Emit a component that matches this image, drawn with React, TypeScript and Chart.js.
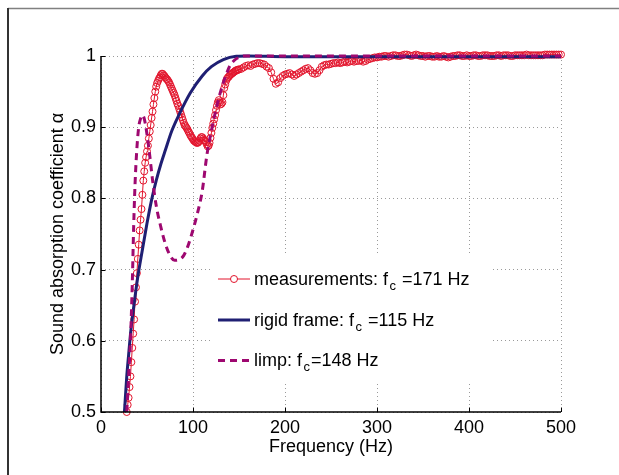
import React, { useEffect, useRef } from "react";
import { Chart, registerables } from "chart.js";

Chart.register(...registerables);

// ---------------- data ----------------
const xTickValues = [0, 100, 200, 300, 400, 500];
const yTickValues = [0.5, 0.6, 0.7, 0.8, 0.9, 1];

// rigid frame model (Hz / alpha)
const rigidFreq = [25.5, 28, 30, 32.5, 35, 40, 45, 50, 55, 60, 65, 70, 77, 85, 97, 110, 120, 133, 147, 160, 200, 300, 400, 500];
const rigidAlpha = [0.5, 0.55, 0.58, 0.615, 0.642, 0.69, 0.728, 0.765, 0.798, 0.825, 0.848, 0.868, 0.895, 0.918, 0.948, 0.972, 0.985, 0.995, 0.9995, 1.0, 0.999, 0.999, 0.999, 0.999];

// limp model (Hz / alpha)
const limpFreq = [28, 30, 32, 34, 35.5, 37, 39, 41, 43, 45, 47, 50, 53, 56, 60, 65, 70, 75, 80, 85, 90, 95, 100, 105, 110, 115, 120, 125, 130, 135, 140, 145, 150, 155, 165, 200, 300, 400, 500];
const limpAlpha = [0.5, 0.55, 0.6, 0.68, 0.76, 0.82, 0.87, 0.9, 0.912, 0.917, 0.912, 0.89, 0.86, 0.826, 0.79, 0.76, 0.736, 0.72, 0.713, 0.714, 0.72, 0.735, 0.756, 0.78, 0.81, 0.86, 0.895, 0.925, 0.95, 0.97, 0.986, 0.994, 0.998, 1.0, 1.0, 1.0, 1.0, 1.0, 1.0];

// measurements, low band: 28 Hz .. 149 Hz, 1 Hz resolution
const measLowStartHz = 28;
const measLowStepHz = 1;
const measLowAlpha = [
  0.500, 0.510, 0.520, 0.535, 0.550, 0.570, 0.590, 0.610, 0.630, 0.655,
  0.675, 0.695, 0.715, 0.735, 0.755, 0.770, 0.785, 0.805, 0.825, 0.838,
  0.850, 0.858, 0.866, 0.874, 0.884, 0.894, 0.903, 0.913, 0.922, 0.932,
  0.941, 0.950, 0.957, 0.962, 0.965, 0.968, 0.970, 0.973, 0.975, 0.975,
  0.973, 0.972, 0.970, 0.968, 0.967, 0.965, 0.963, 0.960, 0.957, 0.954,
  0.951, 0.948, 0.945, 0.941, 0.937, 0.933, 0.930, 0.926, 0.922, 0.918,
  0.914, 0.910, 0.906, 0.903, 0.901, 0.899, 0.897, 0.894, 0.892, 0.889,
  0.887, 0.885, 0.883, 0.881, 0.880, 0.879, 0.878, 0.878, 0.879, 0.881,
  0.884, 0.886, 0.886, 0.884, 0.882, 0.881, 0.879, 0.876, 0.873, 0.874,
  0.878, 0.885, 0.892, 0.899, 0.905, 0.911, 0.917, 0.924, 0.930, 0.935,
  0.938, 0.935, 0.932, 0.933, 0.935, 0.945, 0.955, 0.960, 0.965, 0.968,
  0.970, 0.971, 0.973, 0.974, 0.975, 0.976, 0.977, 0.978, 0.979, 0.980,
  0.980, 0.981,
];

// measurements, high band: 150 Hz .. 500 Hz, 2.5 Hz resolution
const measHighStartHz = 150;
const measHighStepHz = 2.5;
const measHighAlpha = [
  0.981, 0.982, 0.984, 0.986, 0.987, 0.986, 0.988, 0.989, 0.990, 0.990,
  0.989, 0.988, 0.985, 0.983, 0.977, 0.968, 0.961, 0.963, 0.969, 0.972,
  0.974, 0.975, 0.976, 0.974, 0.972, 0.974, 0.976, 0.978, 0.980, 0.982,
  0.983, 0.980, 0.976, 0.975, 0.976, 0.980, 0.985, 0.987, 0.988, 0.988,
  0.989, 0.990, 0.990, 0.991, 0.990, 0.991, 0.992, 0.991, 0.992, 0.993,
  0.992, 0.993, 0.993, 0.994, 0.992, 0.993, 0.995, 0.996, 0.997, 0.998,
  0.998, 0.999, 0.999, 1.000, 1.000, 0.999, 1.000, 1.001, 1.001, 1.000,
  1.000, 1.001, 1.002, 1.002, 1.001, 1.000, 1.001, 1.002, 1.001, 1.000,
  1.000, 0.999, 1.000, 1.000, 0.999, 0.999, 1.000, 0.999, 0.999, 1.000,
  0.999, 0.998, 0.999, 1.000, 1.000, 1.001, 1.001, 1.000, 1.000, 1.001,
  1.000, 1.000, 1.001, 1.001, 1.000, 1.000, 1.001, 1.001, 1.001, 1.000,
  1.000, 1.000, 1.001, 1.001, 1.000, 1.001, 1.001, 1.001, 1.000, 1.000,
  1.001, 1.001, 1.001, 1.001, 1.001, 1.002, 1.001, 1.001, 1.001, 1.001,
  1.001, 1.001, 1.001, 1.002, 1.002, 1.002, 1.002, 1.002, 1.002, 1.002,
  1.002,
];

const legendEntries = [
  { main: "measurements: f", sub: "c", rest: " =171 Hz" },
  { main: "rigid frame: f", sub: "c", rest: " =115 Hz" },
  { main: "limp: f", sub: "c", rest: "=148 Hz" },
];

const RED = "#e2142c";
const NAVY = "#1f1f73";
const PURPLE = "#9e0870";
const FONT = '"Liberation Sans", Arial, Helvetica, sans-serif';

function toPoints(xs: number[], ys: number[]) {
  return ys.map((y, i) => ({ x: xs[i], y }));
}
function gridPoints(start: number, step: number, ys: number[]) {
  return ys.map((y, i) => ({ x: start + i * step, y }));
}

const decorPlugin = {
  id: "decor",
  afterDraw(chart: any) {
    const ctx = chart.ctx as CanvasRenderingContext2D;
    const area = chart.chartArea;
    const xs = chart.scales.x;
    const ys = chart.scales.y;
    ctx.save();

    // outer figure frame
    ctx.strokeStyle = "#808080";
    ctx.lineWidth = 1.5;
    ctx.beginPath();
    ctx.moveTo(8, 8.5);
    ctx.lineTo(619, 8.5);
    ctx.stroke();
    ctx.strokeStyle = "#333333";
    ctx.lineWidth = 2;
    ctx.beginPath();
    ctx.moveTo(8, 8);
    ctx.lineTo(8, 475);
    ctx.stroke();

    // axes lines
    ctx.strokeStyle = "#000";
    ctx.lineWidth = 1.5;
    ctx.beginPath();
    ctx.moveTo(area.left, area.top);
    ctx.lineTo(area.left, area.bottom);
    ctx.lineTo(area.right, area.bottom);
    ctx.stroke();

    // inward tick marks
    ctx.lineWidth = 1;
    ctx.beginPath();
    xTickValues.forEach((v) => {
      const px = Math.round(xs.getPixelForValue(v)) + 0.5;
      ctx.moveTo(px, area.bottom);
      ctx.lineTo(px, area.bottom - 4.5);
    });
    yTickValues.forEach((v) => {
      const py = Math.round(ys.getPixelForValue(v)) + 0.5;
      ctx.moveTo(area.left, py);
      ctx.lineTo(area.left + 4.5, py);
    });
    ctx.stroke();

    // axis titles
    ctx.fillStyle = "#000";
    ctx.font = `18px ${FONT}`;
    ctx.textAlign = "center";
    ctx.textBaseline = "alphabetic";
    ctx.fillText("Frequency (Hz)", (area.left + area.right) / 2, 452);
    ctx.save();
    ctx.translate(63, (area.top + area.bottom) / 2);
    ctx.rotate(-Math.PI / 2);
    ctx.fillText("Sound absorption coefficient \u03b1", 0, 0);
    ctx.restore();

    // legend
    ctx.fillStyle = "#fff";
    ctx.fillRect(213, 256, 280, 128);
    const rowsY = [279, 320, 360.5];
    rowsY.forEach((y, i) => {
      ctx.save();
      if (i === 0) {
        ctx.strokeStyle = RED;
        ctx.lineWidth = 1;
        ctx.beginPath();
        ctx.moveTo(218, y);
        ctx.lineTo(250, y);
        ctx.stroke();
        ctx.beginPath();
        ctx.arc(234, y, 3.5, 0, Math.PI * 2);
        ctx.fillStyle = "#fff";
        ctx.fill();
        ctx.stroke();
      } else if (i === 1) {
        ctx.strokeStyle = NAVY;
        ctx.lineWidth = 3;
        ctx.beginPath();
        ctx.moveTo(218, y);
        ctx.lineTo(250, y);
        ctx.stroke();
      } else {
        ctx.strokeStyle = PURPLE;
        ctx.lineWidth = 3;
        ctx.setLineDash([7, 5]);
        ctx.beginPath();
        ctx.moveTo(218, y);
        ctx.lineTo(251, y);
        ctx.stroke();
      }
      ctx.restore();

      const e = legendEntries[i];
      const base = y + 5.5;
      let x = 254;
      ctx.fillStyle = "#000";
      ctx.textAlign = "left";
      ctx.font = `18px ${FONT}`;
      ctx.fillText(e.main, x, base);
      x += ctx.measureText(e.main).width + 1.5;
      ctx.font = `13px ${FONT}`;
      ctx.fillText(e.sub, x, base + 5);
      x += ctx.measureText(e.sub).width + 1;
      ctx.font = `18px ${FONT}`;
      ctx.fillText(e.rest, x, base);
    });

    ctx.restore();
  },
};

export default function App() {
  const ref = useRef<HTMLCanvasElement>(null);

  useEffect(() => {
    const canvas = ref.current;
    if (!canvas) return;
    const measData = [
      ...gridPoints(measLowStartHz, measLowStepHz, measLowAlpha),
      ...gridPoints(measHighStartHz, measHighStepHz, measHighAlpha),
    ];
    const chart = new Chart(canvas, {
      type: "line",
      data: {
        datasets: [
          {
            label: "limp",
            data: toPoints(limpFreq, limpAlpha),
            borderColor: PURPLE,
            borderWidth: 3,
            borderDash: [7, 5],
            pointRadius: 0,
            cubicInterpolationMode: "monotone",
            fill: false,
            clip: false,
            order: 0,
          },
          {
            label: "rigid frame",
            data: toPoints(rigidFreq, rigidAlpha),
            borderColor: NAVY,
            borderWidth: 3,
            pointRadius: 0,
            cubicInterpolationMode: "monotone",
            fill: false,
            clip: false,
            order: 1,
          },
          {
            label: "measurements",
            data: measData,
            borderColor: RED,
            borderWidth: 1,
            pointRadius: 3.5,
            pointStyle: "circle",
            pointBorderWidth: 1,
            pointBorderColor: RED,
            pointBackgroundColor: "rgba(0,0,0,0)",
            tension: 0,
            fill: false,
            clip: false,
            order: 2,
          },
        ] as any,
      },
      options: {
        responsive: false,
        animation: false,
        devicePixelRatio: 1,
        layout: { padding: { left: 0, top: 56, right: 58, bottom: 0 } },
        plugins: {
          legend: { display: false },
          tooltip: { enabled: false },
        },
        scales: {
          x: {
            type: "linear",
            min: 0,
            max: 500,
            afterFit: (s: any) => {
              s.height = 63;
            },
            ticks: {
              stepSize: 100,
              color: "#000",
              padding: 5,
              maxRotation: 0,
              font: { family: FONT, size: 18 },
            },
            grid: { color: "#9a9a9a", lineWidth: 1, drawTicks: false },
            border: { display: false, dash: [1, 3] },
          },
          y: {
            type: "linear",
            min: 0.5,
            max: 1,
            afterFit: (s: any) => {
              s.width = 101;
            },
            ticks: {
              stepSize: 0.1,
              color: "#000",
              padding: 5,
              font: { family: FONT, size: 18 },
              callback: (v: any) => Number(v).toFixed(1).replace(/\.0$/, ""),
            },
            grid: { color: "#9a9a9a", lineWidth: 1, drawTicks: false },
            border: { display: false, dash: [1, 3] },
          },
        },
      } as any,
      plugins: [decorPlugin],
    });
    return () => chart.destroy();
  }, []);

  return (
    <div style={{ position: "fixed", left: 0, top: 0, width: 619, height: 475, background: "#fff" }}>
      <canvas ref={ref} width={619} height={475} style={{ display: "block" }} />
    </div>
  );
}
